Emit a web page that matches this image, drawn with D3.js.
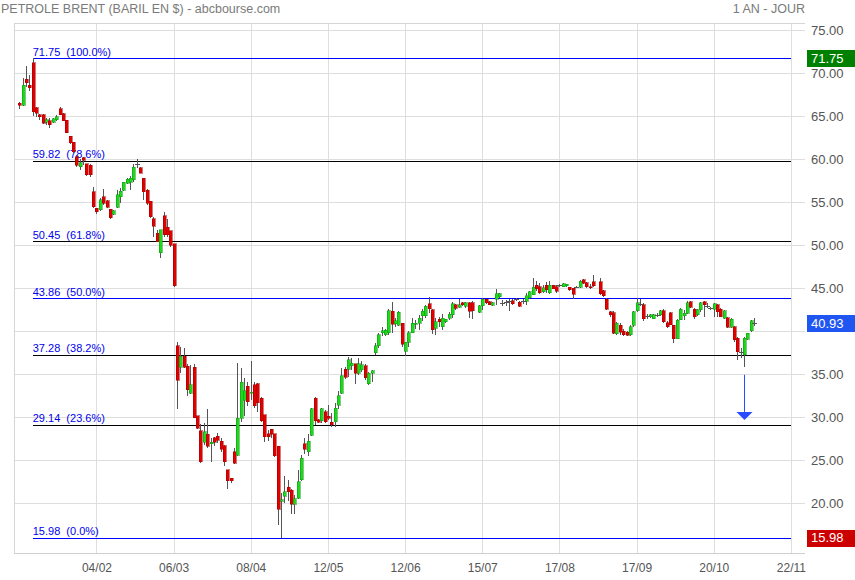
<!DOCTYPE html>
<html><head><meta charset="utf-8">
<script src="https://cdn.jsdelivr.net/npm/d3@7"></script>
<style>html,body{margin:0;padding:0;background:#fff;}svg{display:block;font-family:"Liberation Sans",Arial,sans-serif;}</style>
</head><body><svg id="c" width="855" height="580"></svg>
<script>
// Daily candles (trading-day index 0 = first bar); null = no bar drawn
const opens=[66.5,66.3,69.3,68.6,71.2,66.0,65.2,65.15,64.3,64.45,64.3,64.6,65.9,65.3,64.55,62.7,62.0,60.3,59.1,60.2,59.5,59.3,
56.24,54.3,54.1,55.65,55.2,54.2,53.6,54.4,55.65,56.4,57.2,57.3,57.6,59.42,59.0,57.8,56.4,55.1,53.1,51.4,49.1,53.45,52.1,51.7,50.2,
38.3,35.8,37.1,35.9,32.8,35.8,30.2,28.4,27.1,28.0,26.9,27.6,27.8,27.2,26.7,23.9,22.9,26.0,25.6,29.9,32.0,33.6,32.8,33.8,33.9,
32.2,30.3,28.05,28.6,28.1,26.6,20.2,20.8,21.85,21.5,19.9,20.6,22.7,26.9,26.0,27.9,32.2,29.7,29.6,30.65,30.1,29.4,29.5,31.4,32.8,
35.6,35.6,36.0,36.2,35.1,35.5,36.0,33.9,35.1,37.5,38.3,39.8,39.6,39.8,42.3,40.85,40.7,40.9,37.7,38.7,39.8,40.8,40.9,41.8,
41.8,43.2,42.5,40.35,41.4,40.55,41.1,41.5,41.9,43.06,42.8,43.3,42.9,43.3,43.33,null,42.2,42.95,43.72,43.4,43.0,43.72,44.03,43.35,43.4,
43.45,43.56,43.7,43.36,43.45,43.5,43.87,44.26,45.35,45.15,44.57,45.35,44.45,45.35,45.2,45.35,45.2,45.3,45.1,45.0,45.15,
45.1,45.97,45.66,45.2,45.77,null,45.77,44.73,43.72,42.28,42.17,39.69,40.69,39.99,39.9,39.6,40.69,42.4,43.25,43.1,41.85,41.66,41.47,
41.92,41.9,42.4,41.0,42.16,40.69,39.14,41.35,41.8,42.09,43.44,42.55,41.9,42.47,43.44,42.95,42.68,42.55,43.06,42.55,41.5,41.58,
40.46,40.54,39.18,37.65,37.24,39.07,40.07,40.96];
const highs=[66.7,69.4,70.8,69.8,71.75,66.1,65.3,65.3,64.8,64.8,64.8,65.2,66.1,65.4,64.55,62.7,62.0,60.5,60.0,60.3,59.5,59.5,
56.8,54.3,55.5,56.5,55.3,54.2,54.1,56.4,56.6,57.4,57.8,58.0,59.5,60.0,59.05,57.8,56.5,55.2,53.3,51.8,51.8,53.9,53.0,51.7,50.2,
38.8,38.2,38.0,36.2,36.1,36.2,30.2,29.2,29.3,31.0,27.6,27.7,28.2,27.6,26.8,23.9,22.9,26.4,36.3,35.7,34.6,34.1,36.5,34.1,34.0,
32.3,30.3,28.5,28.6,28.1,26.6,21.2,23.2,22.7,21.7,21.0,23.9,25.6,27.6,28.0,31.1,32.3,29.8,31.1,30.85,31.4,30.5,31.6,33.0,35.7,
35.8,37.0,36.9,36.2,36.85,36.5,36.2,35.3,35.5,38.6,39.8,40.5,40.3,42.55,43.4,41.5,42.3,41.0,38.8,40.0,41.5,41.3,41.9,42.6,
43.1,44.0,42.6,41.5,41.7,42.0,41.4,42.2,43.35,43.2,43.7,43.35,43.35,43.45,43.5,null,43.1,43.85,43.8,43.5,43.4,44.9,44.5,43.6,43.6,
43.8,43.8,43.9,43.5,43.7,44.45,44.7,46.2,45.8,45.6,45.4,45.7,45.8,45.4,45.4,45.5,45.6,45.55,45.2,45.05,45.3,
45.97,46.05,45.77,45.5,46.55,null,46.16,44.8,43.84,42.4,42.3,41.1,40.9,40.3,40.0,40.7,42.4,43.87,43.8,43.33,42.05,42.0,42.05,
42.1,42.5,42.55,41.15,42.24,40.77,41.47,42.75,42.5,43.56,43.56,42.67,42.55,43.44,43.56,43.25,42.86,43.33,43.17,42.67,42.47,41.7,
41.5,40.6,39.37,38.0,39.37,39.84,41.3,41.5];
const lows=[65.8,66.2,68.4,67.9,65.0,64.9,64.6,64.1,64.0,63.6,64.2,64.4,65.1,64.4,63.0,61.8,60.7,59.1,58.7,59.3,58.0,57.9,
54.3,53.6,54.0,54.7,54.3,53.1,53.5,54.3,54.9,56.3,57.1,56.4,57.4,59.0,58.35,55.3,54.7,53.2,51.0,50.35,48.5,51.0,51.0,49.8,45.2,
31.0,35.1,35.7,32.5,32.7,29.9,28.6,24.65,26.8,26.4,24.8,26.6,27.0,26.0,24.3,21.7,22.4,24.6,25.5,29.4,30.1,31.35,32.0,31.1,30.6,
29.5,27.1,27.2,27.55,25.4,17.5,15.98,20.0,20.2,18.8,18.8,20.5,22.6,25.7,25.5,27.8,29.1,29.3,29.3,29.3,29.7,28.9,28.9,31.0,32.7,
34.4,34.65,35.5,33.9,34.9,35.3,34.3,33.75,34.1,37.2,38.1,39.4,39.4,39.6,39.8,40.5,40.6,38.2,37.1,38.2,39.8,40.3,40.2,41.2,
41.5,42.1,39.7,39.6,40.5,40.2,41.0,41.3,41.5,42.5,42.7,42.9,42.7,41.5,41.4,null,42.1,42.5,43.2,43.0,42.9,43.06,43.9,42.95,42.95,
42.4,43.0,43.5,42.8,43.2,43.0,43.8,44.2,44.65,44.3,44.45,44.45,44.3,44.9,44.45,45.2,45.1,45.2,44.7,43.7,45.1,
45.0,45.5,45.0,44.9,45.1,null,44.22,44.0,42.5,41.7,39.69,39.57,39.6,39.5,39.4,39.5,40.5,42.24,42.9,41.2,41.4,41.5,41.4,
41.7,41.8,40.9,40.4,40.69,38.68,39.1,41.3,41.3,42.0,42.67,41.4,41.78,42.28,41.7,42.67,42.47,41.6,41.7,41.6,41.39,40.34,
40.34,38.8,36.66,36.85,35.8,38.99,39.96,40.6];
const closes=[66.3,68.6,68.9,68.3,65.5,65.35,64.95,64.2,64.6,64.0,64.7,64.95,65.2,64.5,63.1,61.9,60.9,59.3,59.6,59.9,58.2,58.2,
54.49,53.9,55.3,54.88,54.4,53.2,54.0,55.85,56.3,57.3,57.7,57.8,59.07,59.45,58.4,56.2,54.9,53.3,52.2,50.4,51.8,51.2,51.2,50.0,45.3,
34.3,37.1,35.8,33.2,33.8,29.96,28.7,24.84,28.3,26.6,27.1,27.1,27.3,26.3,24.8,22.6,22.6,24.65,29.9,34.07,33.06,31.8,32.9,31.35,31.7,
29.6,27.74,27.74,28.0,25.5,19.3,20.4,21.35,21.35,19.9,20.5,22.5,25.2,26.3,27.2,30.96,29.6,29.4,30.96,29.5,29.9,29.1,31.04,32.5,34.84,
34.65,36.7,36.3,35.1,36.2,36.1,34.6,35.1,35.4,38.3,39.57,40.07,40.1,42.4,40.8,41.2,42.2,38.5,38.7,39.8,40.9,40.95,41.5,42.3,
42.9,42.6,40.2,41.1,41.1,41.5,41.4,42.0,43.2,42.7,43.06,43.1,43.3,42.3,42.4,null,42.95,43.72,43.33,43.06,43.33,44.34,44.34,43.3,43.35,
43.5,43.17,43.75,42.9,43.5,44.1,44.57,45.1,44.96,44.45,45.03,44.84,45.35,44.96,44.65,45.4,45.5,45.45,44.85,44.3,45.2,
45.8,45.6,45.2,45.03,45.27,null,44.34,44.1,42.55,41.9,39.77,40.93,39.9,39.6,39.53,40.5,42.24,43.33,43.2,41.47,41.8,41.93,41.93,
41.88,42.4,41.08,40.5,40.77,39.14,41.27,42.55,42.09,43.33,42.78,41.7,42.47,43.33,43.06,42.92,42.65,43.17,42.28,41.7,42.4,40.46,
41.39,38.99,37.63,37.6,39.18,39.76,41.23,40.93];

// x axis: trading-day index of each date label
const xTickIdx=[23,46,69,92,115,138,161,184,207,230];
const xTickLabels=["04/02","06/03","08/04","12/05","12/06","15/07","17/08","17/09","20/10","22/11"];
const yTickValues=[20,25,30,35,40,45,50,55,60,65,70,75];

// Fibonacci retracement levels (from the 71.75 high bar to the 15.98 low)
const fibValues=[71.75,59.82,50.45,43.86,37.28,29.14,15.98];
const fibPct=["100.0%","78.6%","61.8%","50.0%","38.2%","23.6%","0.0%"];
const fibBlue=[true,false,false,true,false,false,true];
const fibStartIdx=4, fibEndIdx=230;

// highlighted price boxes on the right axis
const boxValues=[71.75,40.93,15.98];
const boxColors=["#008000","#1f55f0","#cc0000"];

// projection arrow
const arrowIdx=216, arrowFrom=34.94, arrowTo=29.69;

const svg=d3.select("#c");
const P={left:14,right:805,top:22.7,bottom:553};
const x=d3.scaleLinear().domain([-1.58,234.2]).range([P.left,P.right]);
const y=d3.scaleLinear().domain([14.21,75.88]).range([P.bottom,P.top]);
const px=v=>Math.round(v)+0.5;

// header
svg.append("text").attr("x",1).attr("y",13).attr("font-size",12.5).attr("fill","#7a7a7a")
  .text("PETROLE BRENT (BARIL EN $) - abcbourse.com");
svg.append("text").attr("x",P.right).attr("y",13).attr("font-size",12.5).attr("fill","#7a7a7a")
  .attr("text-anchor","end").text("1 AN - JOUR");

// grid
const grid=svg.append("g").attr("shape-rendering","crispEdges");
grid.selectAll("line.h").data(yTickValues).join("line").attr("class","h")
  .attr("x1",P.left).attr("x2",P.right).attr("y1",d=>px(y(d))).attr("y2",d=>px(y(d)))
  .attr("stroke","#dedede");
grid.selectAll("line.v").data(xTickIdx).join("line").attr("class","v")
  .attr("y1",P.top).attr("y2",P.bottom).attr("x1",d=>px(x(d))).attr("x2",d=>px(x(d)))
  .attr("stroke","#dedede");
grid.append("line").attr("x1",P.left).attr("x2",P.right).attr("y1",px(P.top)).attr("y2",px(P.top)).attr("stroke","#d6d6d6");
grid.append("line").attr("x1",P.left).attr("x2",P.right).attr("y1",px(P.bottom)).attr("y2",px(P.bottom)).attr("stroke","#cfcfcf");
grid.append("line").attr("x1",px(P.left)).attr("x2",px(P.left)).attr("y1",P.top).attr("y2",P.bottom).attr("stroke","#d6d6d6");

// fib lines
const fib=svg.append("g");
fibValues.forEach((v,i)=>{
  fib.append("line").attr("shape-rendering","crispEdges")
    .attr("x1",x(fibStartIdx)).attr("x2",x(fibEndIdx))
    .attr("y1",px(y(v))).attr("y2",px(y(v)))
    .attr("stroke",fibBlue[i]?"#0000ff":"#000000");
  fib.append("text").attr("x",x(fibStartIdx)).attr("y",y(v)-2.5)
    .attr("font-size",11).attr("fill","#0000ee").style("white-space","pre")
    .text(v.toFixed(2)+"  ("+fibPct[i]+")");
});

// candles
const bars=d3.range(opens.length).filter(i=>opens[i]!==null);
const cg=svg.append("g").attr("shape-rendering","crispEdges");
cg.selectAll("line.w").data(bars).join("line").attr("class","w")
  .attr("x1",i=>px(x(i))).attr("x2",i=>px(x(i)))
  .attr("y1",i=>y(highs[i])).attr("y2",i=>y(lows[i]))
  .attr("stroke","#555");
const isDoji=i=>Math.abs(opens[i]-closes[i])<0.06;
cg.selectAll("rect.b").data(bars.filter(i=>!isDoji(i))).join("rect").attr("class","b")
  .attr("x",i=>Math.round(x(i))-1).attr("width",3)
  .attr("y",i=>y(Math.max(opens[i],closes[i])))
  .attr("height",i=>Math.max(1,Math.abs(y(opens[i])-y(closes[i]))))
  .attr("fill",i=>closes[i]>opens[i]?"#1ed81e":"#e00000")
  .attr("stroke",i=>closes[i]>opens[i]?"#0e8e0e":"#9a0000").attr("stroke-width",0.5);
cg.selectAll("line.d").data(bars.filter(isDoji)).join("line").attr("class","d")
  .attr("x1",i=>Math.round(x(i))-2).attr("x2",i=>Math.round(x(i))+3)
  .attr("y1",i=>px(y(closes[i]))).attr("y2",i=>px(y(closes[i])))
  .attr("stroke","#555");

// arrow
const ax=px(x(arrowIdx));
svg.append("line").attr("x1",ax).attr("x2",ax).attr("y1",y(arrowFrom)).attr("y2",y(arrowTo)-8)
  .attr("stroke","#2a4cff").attr("stroke-width",1);
svg.append("path").attr("d",`M${ax-8},${y(arrowTo)-8}L${ax+8},${y(arrowTo)-8}L${ax},${y(arrowTo)}Z`)
  .attr("fill","#2a4cff");

// axes
const xa=svg.append("g").attr("transform",`translate(0,${P.bottom})`)
  .call(d3.axisBottom(x).tickValues(xTickIdx).tickFormat((d,i)=>xTickLabels[i]).tickSize(0).tickPadding(10));
xa.select(".domain").remove();
xa.selectAll("text").attr("font-size",12).attr("fill","#555").attr("font-family","Liberation Sans, Arial, sans-serif");
// axis labels hidden where a highlighted value box sits on top of them
const labelTicks=yTickValues.filter(t=>boxValues.every(b=>Math.abs(y(t)-y(b))>11));
const ya=svg.append("g").attr("transform",`translate(${P.right},0)`)
  .call(d3.axisRight(y).tickValues(labelTicks).tickFormat(d3.format(".2f")).tickSize(0).tickPadding(6));
ya.select(".domain").remove();
ya.selectAll("text").attr("font-size",13).attr("fill","#555").attr("font-family","Liberation Sans, Arial, sans-serif");

// value boxes
const bx=svg.append("g");
boxValues.forEach((v,i)=>{
  bx.append("rect").attr("x",807).attr("y",Math.round(y(v))-8).attr("width",48).attr("height",17).attr("fill",boxColors[i]);
  bx.append("text").attr("x",811).attr("y",y(v)).attr("dy","0.36em").attr("font-size",13).attr("fill","#fff").text(v.toFixed(2));
});
</script></body></html>
